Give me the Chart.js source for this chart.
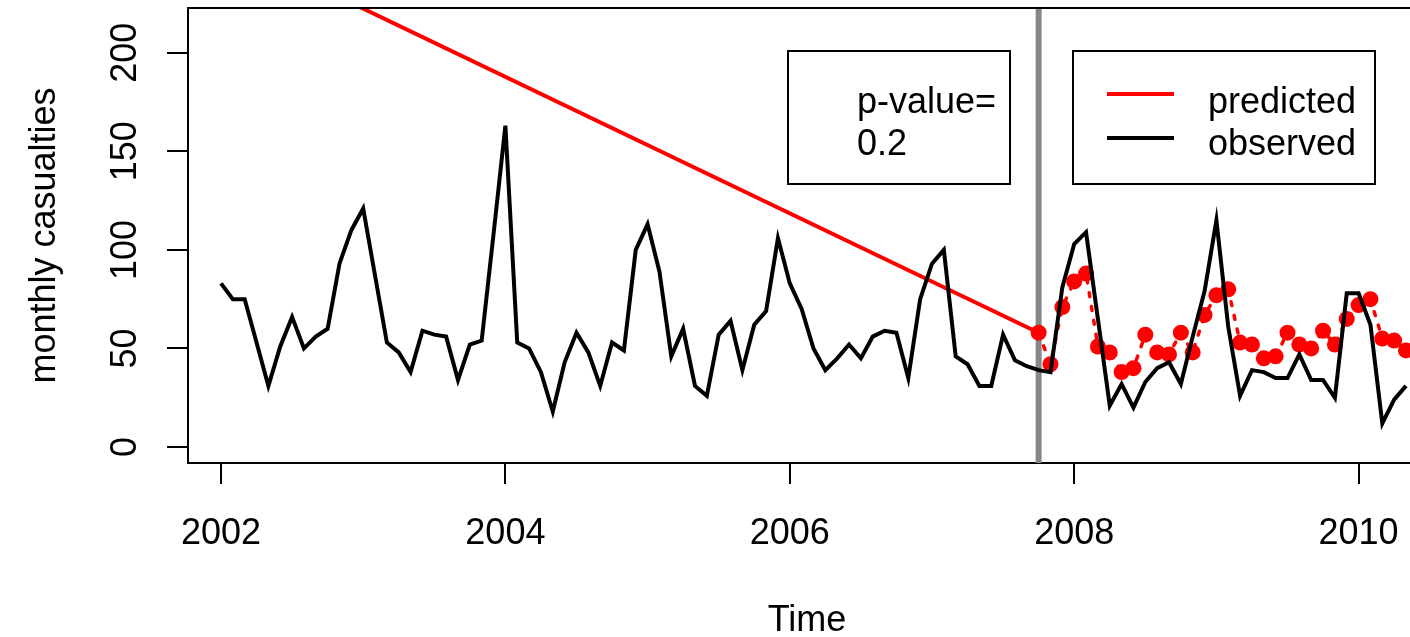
<!DOCTYPE html>
<html>
<head>
<meta charset="utf-8">
<script src="https://cdn.jsdelivr.net/npm/chart.js@4.4.1/dist/chart.umd.min.js"></script>
<style>
html, body { margin: 0; padding: 0; overflow: hidden; background: #fff; }
#wrap { width: 1440px; height: 637px; }
</style>
</head>
<body>
<div id="wrap"><canvas id="grafico"></canvas></div>
<script>
// monthly series, first value = Jan 2002
const startYear = 2002
const observed = [
    83, 75, 75, 53, 31, 51, 66, 50, 56, 60, 93, 110,
    121, 87, 53, 48, 38, 59, 57, 56, 34, 52, 54, 108,
    163, 53, 50, 38, 18, 43, 58, 48, 31, 53, 49, 100,
    113, 89, 46, 60, 31, 26, 57, 64, 39, 62, 69, 106,
    83, 70, 50, 39, 45, 52, 45, 56, 59, 58, 35, 75,
    93, 100, 46, 42, 31, 31, 57, 44, 41, 39, 38, 81,
    103, 109, 65, 21, 32, 20, 33, 40, 43, 32, 56, 79,
    115, 61, 26, 39, 38, 35, 35, 47, 34, 34, 25, 78,
    78, 62, 12, 24, 31
]
// predicted values after the intervention (month 69 = Oct 2007)
const predictedStart = 69
const predicted = [
    58, 42, 71, 84, 88, 51, 48, 38, 40, 57, 48, 47,
    58, 48, 67, 77, 80, 53, 52, 45, 46, 58, 52, 50,
    59, 52, 65, 72, 75, 55, 54, 49
]
// pre-period trend line (month index, value)
const trendMonths = [0, 69]
const trendValues = [257, 58]

const xTickYears = [2002, 2004, 2006, 2008, 2010]
const yTickValues = [0, 50, 100, 150, 200]
const legendLabels = ['predicted', 'observed']
const legendColors = ['#ff0000', '#000000']
const pValueLines = ['p-value=', '0.2']

const fuente = '"Liberation Sans", Arial, Helvetica, sans-serif'
const monthToYear = m => startYear + m / 12

const extras = {
    id: 'extras',
    beforeDatasetsDraw(chart) {
        const { ctx, chartArea: a, scales: { x } } = chart
        const gx = x.getPixelForValue(monthToYear(predictedStart))
        ctx.save()
        ctx.strokeStyle = '#878787'
        ctx.lineWidth = 6
        ctx.beginPath()
        ctx.moveTo(gx, a.top)
        ctx.lineTo(gx, a.bottom)
        ctx.stroke()
        ctx.restore()
    },
    afterDraw(chart) {
        const { ctx, chartArea: a } = chart
        ctx.save()
        ctx.strokeStyle = '#000'
        ctx.lineWidth = 2
        ctx.beginPath()
        ctx.moveTo(a.left, a.top)
        ctx.lineTo(a.right, a.top)
        ctx.lineTo(a.right, a.bottom)
        ctx.stroke()

        ctx.font = `36px ${fuente}`
        ctx.textBaseline = 'alphabetic'
        ctx.textAlign = 'left'
        const rowsText = [113, 155]
        const rowsLine = [94, 138]

        // p-value box
        ctx.fillStyle = '#fff'
        ctx.fillRect(788, 51, 222, 133)
        ctx.strokeRect(788, 51, 222, 133)
        ctx.fillStyle = '#000'
        pValueLines.forEach((t, i) => ctx.fillText(t, 857, rowsText[i]))

        // series legend
        ctx.fillStyle = '#fff'
        ctx.fillRect(1073, 51, 302, 133)
        ctx.strokeRect(1073, 51, 302, 133)
        legendLabels.forEach((t, i) => {
            ctx.strokeStyle = legendColors[i]
            ctx.lineWidth = 4
            ctx.beginPath()
            ctx.moveTo(1107, rowsLine[i])
            ctx.lineTo(1174, rowsLine[i])
            ctx.stroke()
            ctx.fillStyle = '#000'
            ctx.fillText(t, 1208, rowsText[i])
        })
        ctx.restore()
    }
}

const ejeComun = {
    type: 'linear',
    grid: { drawOnChartArea: false, drawTicks: true, tickLength: 21, lineWidth: 2, color: '#000' },
    border: { display: true, color: '#000', width: 2 },
}

const ctx = document.getElementById('grafico')
const myChart = new Chart(ctx, {
    type: 'line',
    data: {
        datasets: [
            {
                label: 'observed',
                data: observed.map((v, i) => ({ x: monthToYear(i), y: v })),
                borderColor: '#000',
                borderWidth: 4,
                pointRadius: 0,
                tension: 0,
                order: 0
            },
            {
                label: 'predicted',
                data: predicted.map((v, i) => ({ x: monthToYear(predictedStart + i), y: v })),
                borderColor: '#ff0000',
                borderWidth: 3.5,
                borderDash: [4, 10],
                borderCapStyle: 'round',
                pointRadius: 8,
                pointBackgroundColor: '#ff0000',
                pointBorderWidth: 0,
                tension: 0,
                order: 1
            },
            {
                label: 'trend',
                data: trendMonths.map((m, i) => ({ x: monthToYear(m), y: trendValues[i] })),
                borderColor: '#ff0000',
                borderWidth: 4,
                pointRadius: 0,
                tension: 0,
                order: 2
            }
        ]
    },
    options: {
        responsive: true,
        maintainAspectRatio: false,
        animation: false,
        layout: { padding: { left: 0, top: 6, right: 14, bottom: 0 } },
        plugins: { legend: { display: false }, tooltip: { enabled: false } },
        scales: {
            x: {
                ...ejeComun,
                min: 2001.768,
                max: 2010.474,
                afterBuildTicks: s => { s.ticks = xTickYears.map(v => ({ value: v })) },
                afterFit: s => { s.height = 174; s.paddingLeft = 0; s.paddingRight = 0 },
                ticks: {
                    autoSkip: false, maxRotation: 0, padding: 28, color: '#000',
                    font: { family: fuente, size: 36 },
                    callback: v => String(v)
                },
                title: {
                    display: true, text: 'Time', color: '#000',
                    font: { family: fuente, size: 36, lineHeight: 1 },
                    padding: { top: 0, bottom: -2 }
                }
            },
            y: {
                ...ejeComun,
                min: -8.1,
                max: 222.7,
                afterBuildTicks: s => { s.ticks = yTickValues.map(v => ({ value: v })) },
                afterFit: s => { s.width = 188; s.paddingTop = 0; s.paddingBottom = 0 },
                ticks: {
                    autoSkip: false, minRotation: 90, maxRotation: 90, crossAlign: 'center',
                    padding: 11, color: '#000',
                    font: { family: fuente, size: 36 },
                    callback: v => String(v)
                },
                title: {
                    display: true, text: 'monthly casualties', color: '#000',
                    font: { family: fuente, size: 36, lineHeight: 1 },
                    padding: { top: 27, bottom: 0 }
                }
            }
        }
    },
    plugins: [extras]
})
</script>
</body>
</html>
